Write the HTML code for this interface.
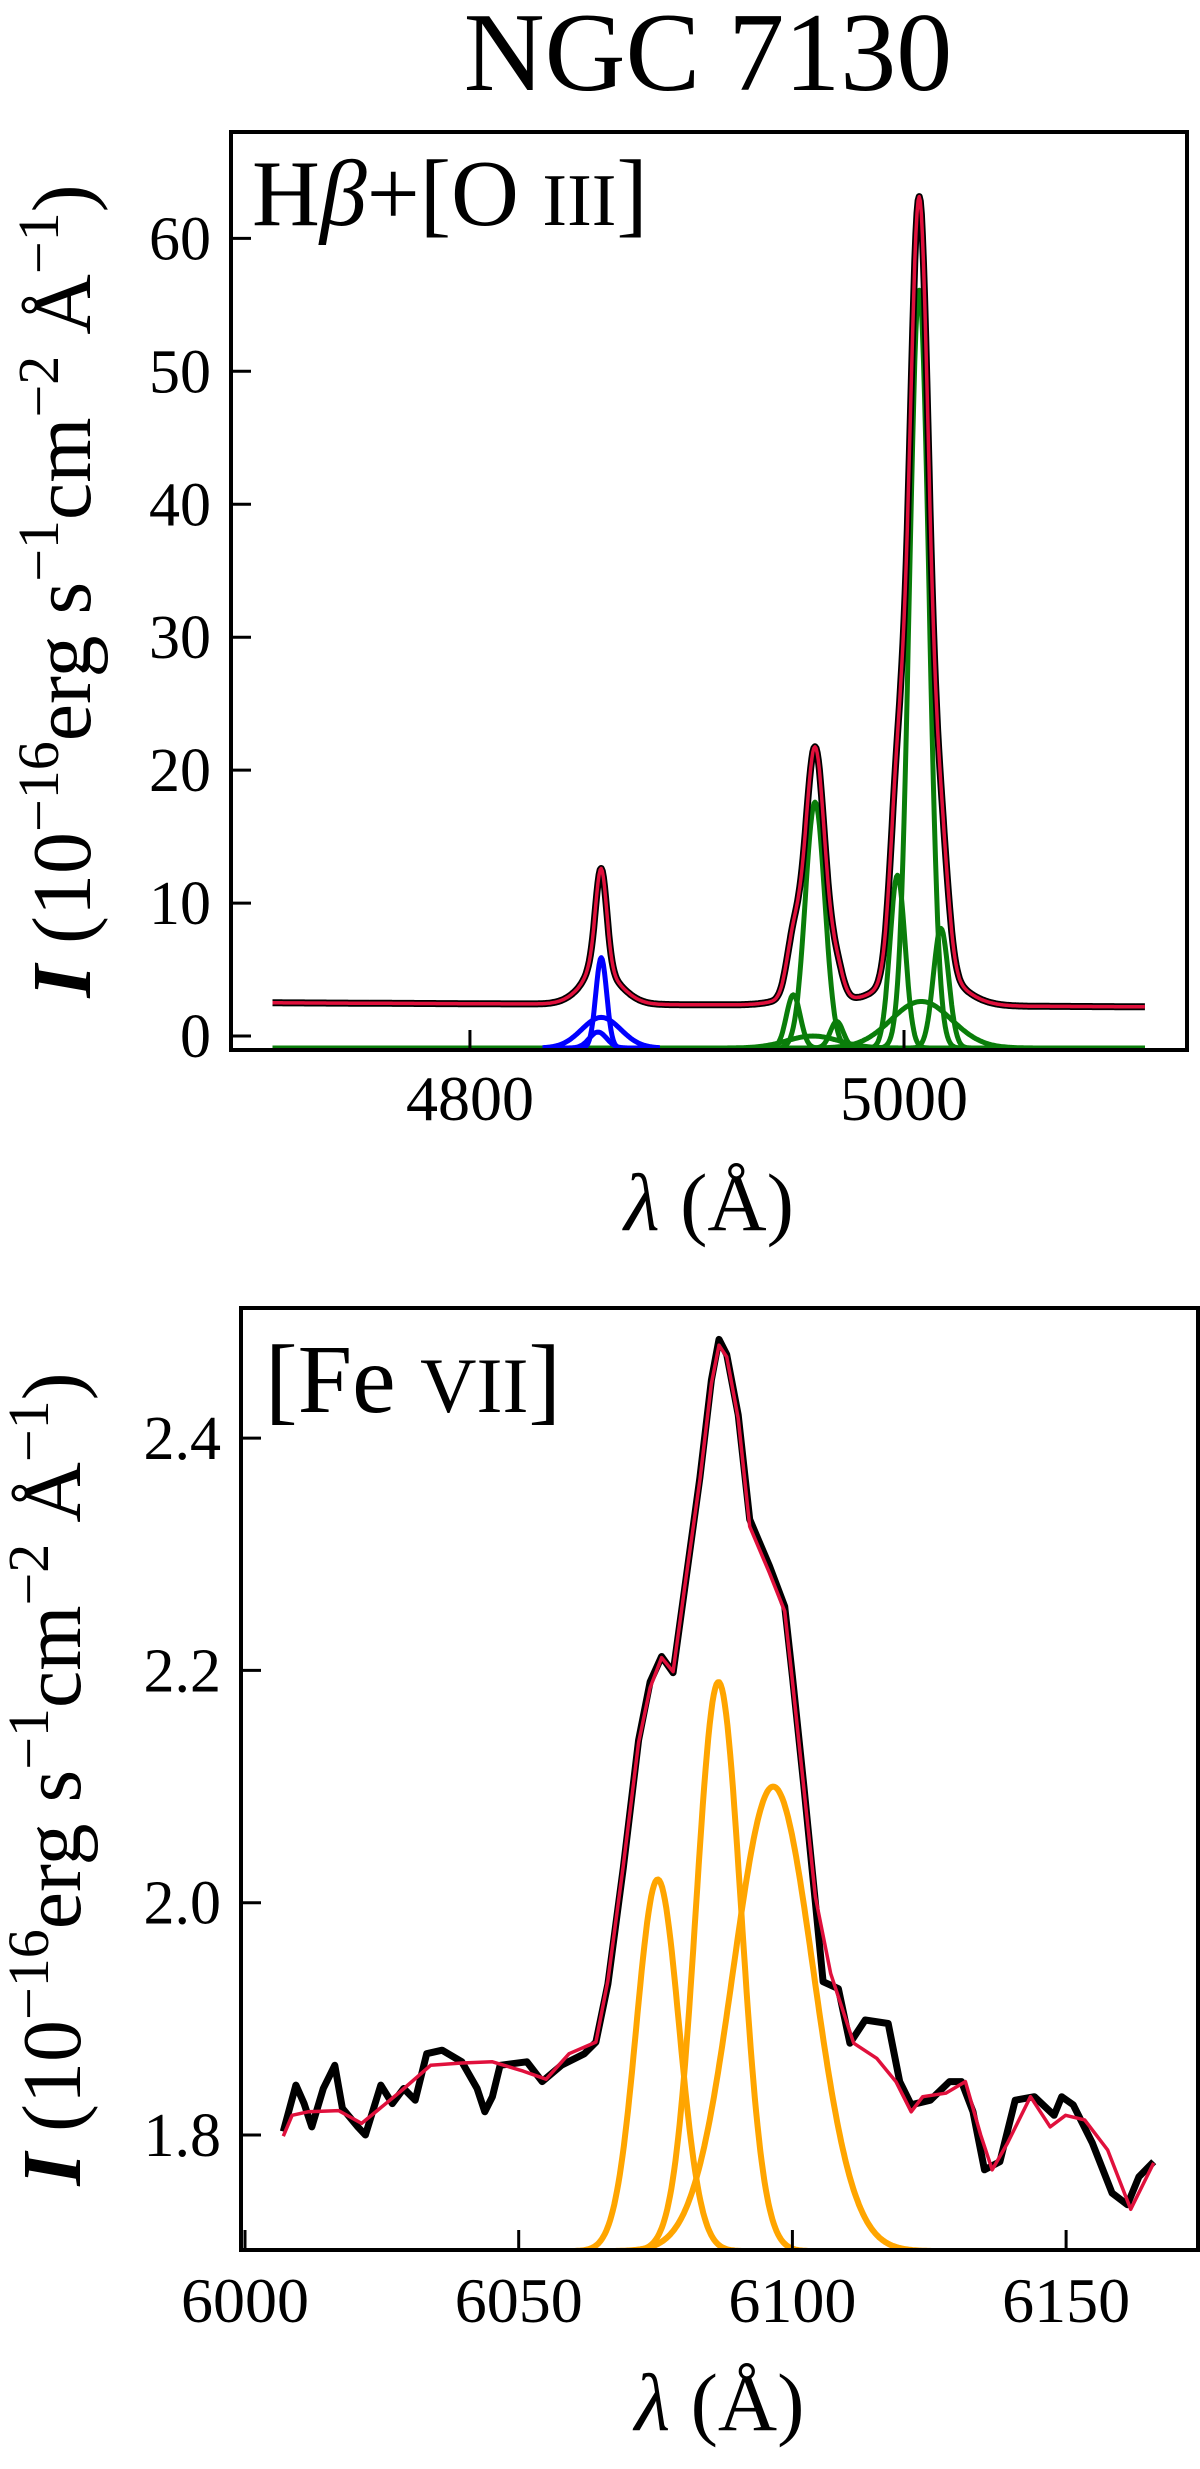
<!DOCTYPE html>
<html><head><meta charset="utf-8"><style>
html,body{margin:0;padding:0;background:#fff;}
svg{display:block;font-family:"Liberation Serif",serif;}
</style></head><body>
<svg id="fig" width="1200" height="2469" viewBox="0 0 1200 2469" xmlns="http://www.w3.org/2000/svg">
<text x="708" y="90" font-size="112" text-anchor="middle">NGC 7130</text>
<g id="top"></g>
<g id="bot"></g>
</svg>
<script>
// ---------- Top panel data ----------
const topXTicks = [4800, 5000];
const topYTicks = [0, 10, 20, 30, 40, 50, 60];
const topContinuumLeft = 2.5, topContinuumRight = 2.2;
const topCompOffset = -0.9;
const hbCenters = [4860.5, 4860.5, 4859];
const hbAmps = [6.8, 2.3, 1.2];
const hbSigmas = [2.5, 9.0, 4.0];
const oiiiCenters = [4959, 4949, 4969, 4958, 5007, 4997, 5017, 5008];
const oiiiAmps = [18.5, 4.0, 2.0, 0.9, 57.0, 13.0, 9.0, 3.5];
const oiiiSigmas = [4.5, 3.2, 3.0, 12, 4.5, 3.5, 3.5, 14];
const topXMin = 4709, topXMax = 5111;

// ---------- Bottom panel data ----------
const botXTicks = [6000, 6050, 6100, 6150];
const botYTicks = [1.8, 2.0, 2.2, 2.4];
const fitLambda = [6007.0,6008.6,6011.5,6017.1,6021.3,6028.3,6033.9,6039.6,6045.2,6050.8,6055.0,6059.2,6064.1,6066.3,6069.1,6071.9,6074.0,6076.1,6078.2,6080.3,6083.1,6085.2,6086.6,6088.0,6090.1,6092.2,6095.8,6098.6,6100.0,6102.1,6104.2,6107.0,6111.2,6115.4,6118.9,6121.7,6123.8,6128.0,6131.6,6134.4,6136.5,6139.3,6143.5,6147.1,6149.9,6153.4,6157.6,6161.8,6166.0];
const fitFlux = [1.799,1.817,1.820,1.821,1.810,1.837,1.860,1.862,1.863,1.855,1.848,1.870,1.880,1.933,2.032,2.138,2.185,2.211,2.199,2.271,2.364,2.447,2.480,2.470,2.417,2.324,2.284,2.251,2.191,2.098,2.005,1.939,1.879,1.866,1.846,1.820,1.833,1.836,1.846,1.800,1.770,1.793,1.833,1.807,1.817,1.813,1.787,1.736,1.776];
const obsLambda = [6007.0,6009.3,6010.8,6012.2,6014.3,6016.4,6017.8,6020.6,6022.0,6024.8,6026.9,6029.0,6031.1,6033.2,6036.0,6039.6,6042.4,6043.8,6045.2,6046.6,6051.5,6054.3,6057.8,6062.0,6064.1,6066.3,6069.1,6071.9,6074.0,6076.1,6078.2,6080.3,6083.1,6085.2,6086.6,6088.0,6090.1,6092.2,6095.8,6098.6,6100.0,6102.1,6104.2,6105.6,6108.4,6110.5,6113.3,6117.5,6119.6,6121.7,6125.2,6128.7,6130.9,6133.0,6135.1,6137.9,6140.7,6144.2,6147.8,6149.2,6151.3,6154.8,6158.4,6161.2,6163.3,6166.0];
const obsFlux = [1.803,1.843,1.827,1.807,1.840,1.860,1.823,1.807,1.800,1.843,1.827,1.840,1.830,1.870,1.873,1.863,1.840,1.820,1.833,1.860,1.863,1.846,1.860,1.870,1.880,1.930,2.030,2.140,2.190,2.212,2.198,2.270,2.366,2.450,2.485,2.472,2.420,2.330,2.290,2.255,2.195,2.100,2.000,1.932,1.926,1.879,1.899,1.896,1.846,1.826,1.830,1.846,1.846,1.820,1.770,1.777,1.830,1.833,1.817,1.833,1.826,1.793,1.750,1.740,1.764,1.777];
const feCenters = [6075.4, 6086.5, 6096.5];
const feAmps = [0.32, 0.49, 0.40];
const feSigmas = [3.9, 4.1, 7.3];
const feBase = 1.70;

const NS = "http://www.w3.org/2000/svg";
function mk(parent, tag, attrs, txt){
  const e = document.createElementNS(NS, tag);
  for (const k in attrs) e.setAttribute(k, attrs[k]);
  if (txt !== undefined) e.textContent = txt;
  parent.appendChild(e);
  return e;
}
function gauss(x,c,a,s){return a*Math.exp(-0.5*((x-c)/s)**2);}

function setupPanel(g, box, xd, yd, clipId){
  const sx = v => box.l + (v - xd[0])/(xd[1]-xd[0])*(box.r-box.l);
  const sy = v => box.b - (v - yd[0])/(yd[1]-yd[0])*(box.b-box.t);
  const defs = mk(g,'defs',{});
  const cp = mk(defs,'clipPath',{id:clipId});
  mk(cp,'rect',{x:box.l,y:box.t,width:box.r-box.l,height:box.b-box.t});
  return {sx, sy};
}
function drawAxes(g, box, sx, sy, xt, yt, yfmt, xlabY, ylabX){
  const ticks = mk(g,'g',{});
  
  
  xt.forEach(v=>{
    mk(ticks,'line',{x1:sx(v),x2:sx(v),y1:box.b,y2:box.b-20,stroke:'#000','stroke-width':3});
    const t = mk(ticks,'text',{x:sx(v),y:xlabY,'font-size':64,'text-anchor':'middle'}, String(v));
    
    
  });
  yt.forEach(v=>{
    mk(ticks,'line',{x1:box.l,x2:box.l+20,y1:sy(v),y2:sy(v),stroke:'#000','stroke-width':3});
    const t = mk(ticks,'text',{x:box.l-20,y:sy(v)+21,'font-size':62,'text-anchor':'end'}, yfmt(v));
    
    
  });
  const fr = mk(g,'rect',{x:box.l,y:box.t,width:box.r-box.l,height:box.b-box.t,fill:'none',stroke:'#000','stroke-width':4});
  
  
  const xl = mk(g,'text',{x:(box.l+box.r)/2,y:box.b+180,'font-size':82,'text-anchor':'middle'});
  
  
  mk(xl,'tspan',{'font-style':'italic'},'λ');
  mk(xl,'tspan',{},' (Å)');
  const cy = (box.t+box.b)/2;
  const yl = mk(g,'text',{x:0,y:0,'font-size':84,'text-anchor':'middle',transform:`translate(${ylabX},${cy}) rotate(-90)`});
  
  
  mk(yl,'tspan',{'font-style':'italic','font-weight':'bold'},'I');
  mk(yl,'tspan',{'font-weight':'normal'},' (10');
  mk(yl,'tspan',{'baseline-shift':'super','font-size':58,'font-weight':'normal'},'−16');
  mk(yl,'tspan',{'font-weight':'normal'},'erg s');
  mk(yl,'tspan',{'baseline-shift':'super','font-size':58,'font-weight':'normal'},'−1');
  mk(yl,'tspan',{'font-weight':'normal'},'cm');
  mk(yl,'tspan',{'baseline-shift':'super','font-size':58,'font-weight':'normal'},'−2');
  mk(yl,'tspan',{'font-weight':'normal'},' Å');
  mk(yl,'tspan',{'baseline-shift':'super','font-size':58,'font-weight':'normal'},'−1');
  mk(yl,'tspan',{'font-weight':'normal'},')');
}
function pathFrom(xs, ys, sx, sy){
  return xs.map((x,i)=>(i?'L':'M')+sx(x).toFixed(1)+','+sy(ys[i]).toFixed(1)).join('');
}

// ---------- Top panel ----------
(function(){
  const g = document.getElementById('top');
  const box = {l:231, r:1187, t:132, b:1050};
  const {sx, sy} = setupPanel(g, box, [4689.9, 5130.4], [-1.05, 68.0], 'clipTop');
  const plot = mk(g,'g',{'clip-path':'url(#clipTop)'});
  const xs = [];
  for (let x = topXMin; x <= topXMax; x += 0.5) xs.push(x);
  const cont = x => topContinuumLeft + (topContinuumRight-topContinuumLeft)*(x-topXMin)/(topXMax-topXMin);
  const model = xs.map(x=>{
    let v = cont(x);
    hbCenters.forEach((c,i)=> v += gauss(x,c,hbAmps[i],hbSigmas[i]));
    oiiiCenters.forEach((c,i)=> v += gauss(x,c,oiiiAmps[i],oiiiSigmas[i]));
    return v;
  });
  oiiiCenters.forEach((c,i)=>{
    const ys = xs.map(x=> topCompOffset + gauss(x,c,oiiiAmps[i],oiiiSigmas[i]));
    const p = mk(plot,'path',{d:pathFrom(xs,ys,sx,sy),fill:'none',stroke:'#0a7d0a','stroke-width':5,'stroke-linejoin':'round'});
    
    
  });
  hbCenters.forEach((c,i)=>{
    const bx = xs.filter(x=> x > 4833 && x < 4888);
    const ys = bx.map(x=> topCompOffset + gauss(x,c,hbAmps[i],hbSigmas[i]));
    const p = mk(plot,'path',{d:pathFrom(bx,ys,sx,sy),fill:'none',stroke:'#0000ff','stroke-width':5,'stroke-linejoin':'round'});
    
    
  });
  const obs = mk(plot,'path',{d:pathFrom(xs,model,sx,sy),fill:'none',stroke:'#000','stroke-width':7,'stroke-linejoin':'round'});
  
  
  const fit = mk(plot,'path',{d:pathFrom(xs,model,sx,sy),fill:'none',stroke:'#e0103c','stroke-width':3.5,'stroke-linejoin':'round'});
  
  
  drawAxes(g, box, sx, sy, topXTicks, topYTicks, v=>String(v), 1120, 90);
  const lab = mk(g,'text',{x:252,y:225,'font-size':94});
  
  
  mk(lab,'tspan',{},'H');
  mk(lab,'tspan',{'font-style':'italic'},'β');
  mk(lab,'tspan',{},'+[O ');
  mk(lab,'tspan',{'font-size':74},'III');
  mk(lab,'tspan',{},']');
})();

// ---------- Bottom panel ----------
(function(){
  const g = document.getElementById('bot');
  const box = {l:241, r:1198, t:1308, b:2250};
  const pxPerA = 273.7/50;
  const xMin = 6000 - (245-241)/pxPerA, xMax = 6000 + (1198-245)/pxPerA;
  const pxPerU = 1161.5;
  const yMin = 1.8 - (2250-2135)/pxPerU, yMax = 1.8 + (2135-1308)/pxPerU;
  const {sx, sy} = setupPanel(g, box, [xMin, xMax], [yMin, yMax], 'clipBot');
  const plot = mk(g,'g',{'clip-path':'url(#clipBot)'});
  feCenters.forEach((c,i)=>{
    const xs = [];
    for (let x = c-4.6*feSigmas[i]; x <= c+4.6*feSigmas[i]; x += 0.25) xs.push(x);
    const ys = xs.map(x=> feBase + gauss(x,c,feAmps[i],feSigmas[i]));
    const p = mk(plot,'path',{d:pathFrom(xs,ys,sx,sy),fill:'none',stroke:'#ffa500','stroke-width':6,'stroke-linejoin':'round'});
    
    
  });
  const obs = mk(plot,'path',{d:pathFrom(obsLambda,obsFlux,sx,sy),fill:'none',stroke:'#000','stroke-width':7,'stroke-linejoin':'round'});
  
  
  const fit = mk(plot,'path',{d:pathFrom(fitLambda,fitFlux,sx,sy),fill:'none',stroke:'#e0103c','stroke-width':3.5,'stroke-linejoin':'round'});
  
  
  drawAxes(g, box, sx, sy, botXTicks, botYTicks, v=>v.toFixed(1), 2322, 80);
  const lab = mk(g,'text',{x:265,y:1412,'font-size':98});
  
  
  mk(lab,'tspan',{},'[Fe ');
  mk(lab,'tspan',{'font-size':78},'VII');
  mk(lab,'tspan',{},']');
})();
</script>
</body></html>
